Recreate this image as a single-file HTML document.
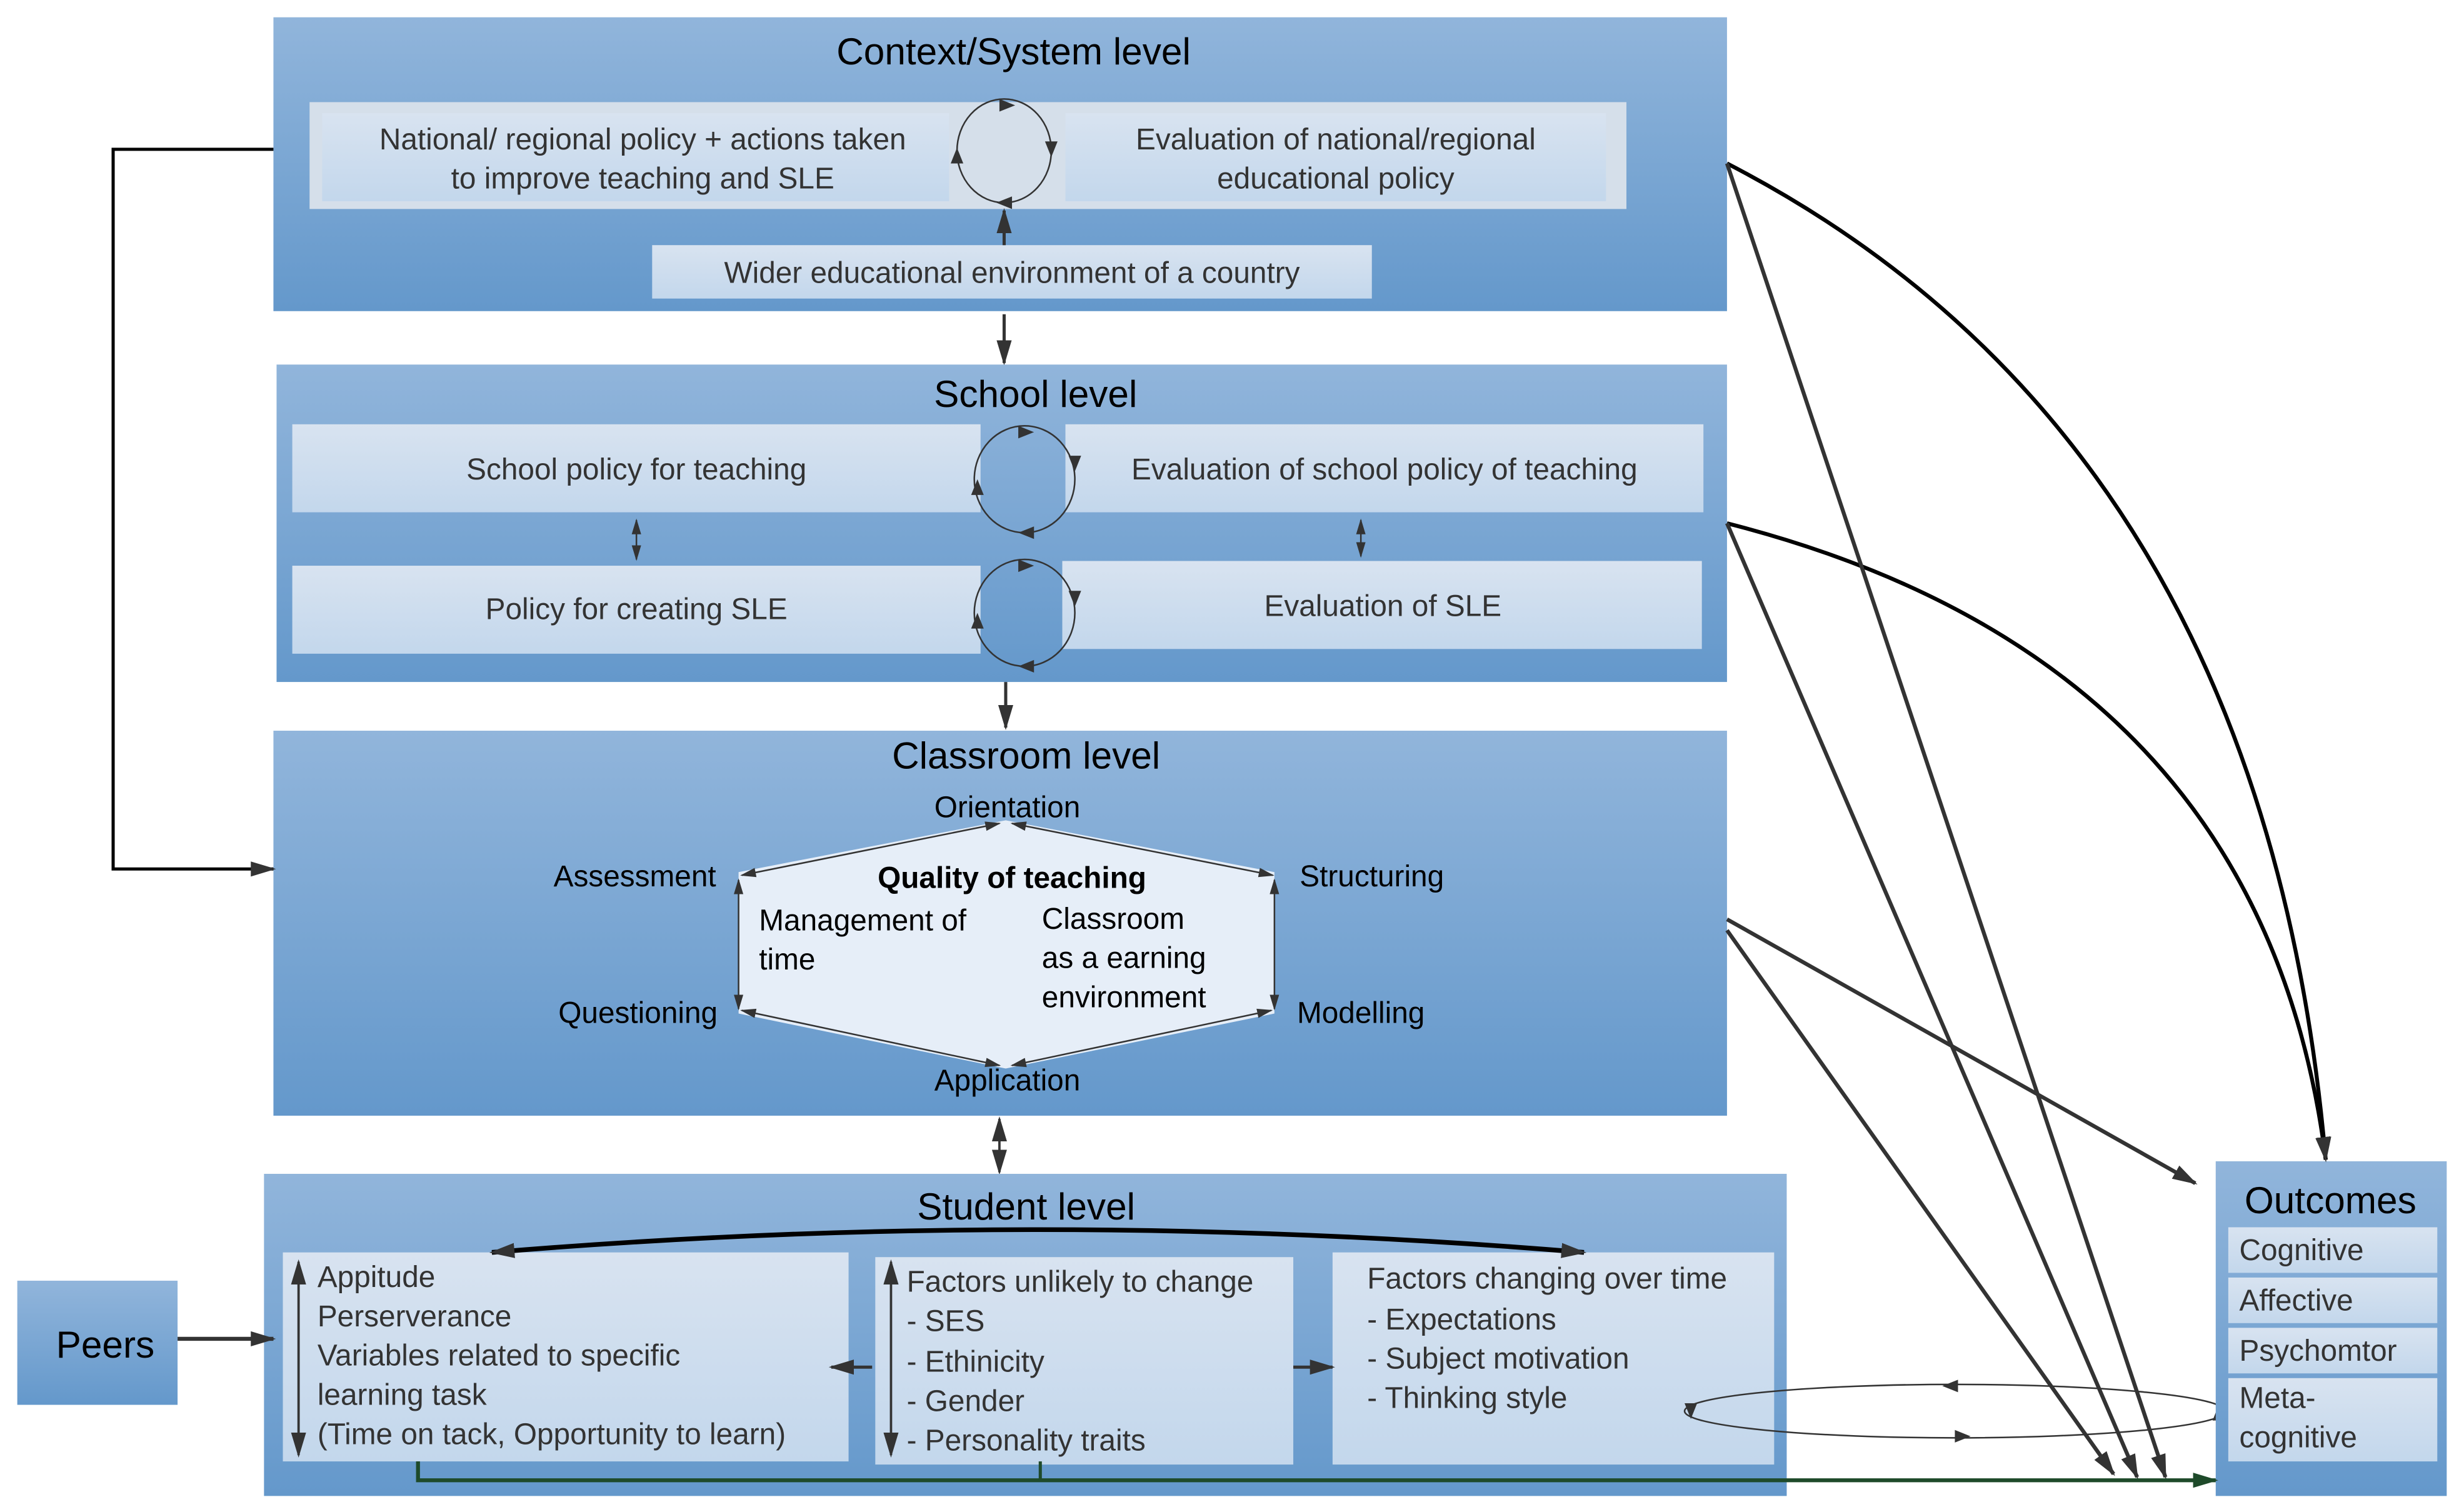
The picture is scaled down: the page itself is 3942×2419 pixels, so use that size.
<!DOCTYPE html>
<html><head><meta charset="utf-8"><style>
html,body{margin:0;padding:0;background:#fff;}
svg{display:block;}
text{font-family:"Liberation Sans",Arial,sans-serif;}
</style></head><body>
<svg width="3942" height="2419" viewBox="0 0 1568 962.2" preserveAspectRatio="none" xmlns="http://www.w3.org/2000/svg">
<defs>
<linearGradient id="bg" x1="0" y1="0" x2="0" y2="1"><stop offset="0" stop-color="#91b5db"/><stop offset="1" stop-color="#6498cb"/></linearGradient>
<linearGradient id="ib" x1="0" y1="0" x2="0" y2="1"><stop offset="0" stop-color="#d8e3f0"/><stop offset="1" stop-color="#c3d7ec"/></linearGradient>
<marker id="a" viewBox="0 0 10 10" refX="9" refY="5" markerUnits="userSpaceOnUse" markerWidth="10" markerHeight="10" orient="auto-start-reverse"><path d="M0,2L10,5L0,8z" fill="#333"/></marker>
<marker id="s" viewBox="0 0 10 10" refX="9" refY="5" markerUnits="userSpaceOnUse" markerWidth="16" markerHeight="16" orient="auto-start-reverse"><path d="M0,2L10,5L0,8z" fill="#333"/></marker>
<marker id="g" viewBox="0 0 10 10" refX="9" refY="5" markerUnits="userSpaceOnUse" markerWidth="16" markerHeight="16" orient="auto"><path d="M0,2L10,5L0,8z" fill="#1e4a2a"/></marker>
</defs>
<g fill="#333" font-size="19" text-anchor="middle">
<!-- Context -->
<rect x="174" y="11" width="925" height="187" fill="url(#bg)"/>
<text x="645" y="41" font-size="24" fill="#000">Context/System level</text>
<rect x="197" y="65" width="838" height="68" fill="#d5dfea"/>
<rect x="205" y="72" width="399" height="56" fill="url(#ib)"/>
<rect x="678" y="72" width="344" height="56" fill="url(#ib)"/>
<text x="409" y="95">National/ regional policy + actions taken</text>
<text x="409" y="120">to improve teaching and SLE</text>
<text x="850" y="95">Evaluation of national/regional</text>
<text x="850" y="120">educational policy</text>
<ellipse cx="639" cy="96" rx="30" ry="33" fill="none" stroke="#333" stroke-width="1"/>
<path d="M636,63l10,4-10,4z M673,90l-4,10-4,-10z M634,129l10,-4v8z M605,104l4,-10 4,10z" fill="#333"/>
<rect x="415" y="156" width="458" height="34" fill="url(#ib)"/>
<text x="644" y="180">Wider educational environment of a country</text>
<line x1="639" y1="156" x2="639" y2="134" stroke="#333" stroke-width="2" marker-end="url(#s)"/>
<line x1="639" y1="200" x2="639" y2="231" stroke="#333" stroke-width="2" marker-end="url(#s)"/>
<!-- School -->
<rect x="176" y="232" width="923" height="202" fill="url(#bg)"/>
<text x="659" y="259" font-size="24" fill="#000">School level</text>
<rect x="186" y="270" width="438" height="56" fill="url(#ib)"/>
<rect x="678" y="270" width="406" height="56" fill="url(#ib)"/>
<rect x="186" y="360" width="438" height="56" fill="url(#ib)"/>
<rect x="676" y="357" width="407" height="56" fill="url(#ib)"/>
<text x="405" y="305">School policy for teaching</text>
<text x="881" y="305">Evaluation of school policy of teaching</text>
<text x="405" y="394">Policy for creating SLE</text>
<text x="880" y="392">Evaluation of SLE</text>
<ellipse cx="652" cy="305" rx="32" ry="34" fill="none" stroke="#333"/>
<ellipse cx="652" cy="390" rx="32" ry="34" fill="none" stroke="#333"/>
<path d="M648,271l10,4-10,4z M688,290l-4,10-4,-10z M648,339l10,-4v8z M618,315l4,-10 4,10z" fill="#333"/>
<path d="M648,356l10,4-10,4z M688,376l-4,10-4,-10z M648,424l10,-4v8z M618,400l4,-10 4,10z" fill="#333"/>
<line x1="405" y1="331" x2="405" y2="356" stroke="#333" marker-start="url(#a)" marker-end="url(#a)"/>
<line x1="866" y1="331" x2="866" y2="354" stroke="#333" marker-start="url(#a)" marker-end="url(#a)"/>
<line x1="640" y1="434" x2="640" y2="463" stroke="#333" stroke-width="2" marker-end="url(#s)"/>
<!-- Classroom -->
<rect x="174" y="465" width="925" height="245" fill="url(#bg)"/>
<text x="653" y="489" font-size="24" fill="#000">Classroom level</text>
<polygon points="640,522 811,555 811,645 640,680 470,645 470,555" fill="#e6eef8"/>
<g stroke="#333" fill="none">
<line x1="636" y1="524" x2="472" y2="557" marker-end="url(#a)" marker-start="url(#a)"/>
<line x1="644" y1="524" x2="810" y2="557" marker-end="url(#a)" marker-start="url(#a)"/>
<line x1="811" y1="560" x2="811" y2="642" marker-end="url(#a)" marker-start="url(#a)"/>
<line x1="470" y1="560" x2="470" y2="642" marker-end="url(#a)" marker-start="url(#a)"/>
<line x1="472" y1="643" x2="636" y2="678" marker-end="url(#a)" marker-start="url(#a)"/>
<line x1="809" y1="643" x2="644" y2="678" marker-end="url(#a)" marker-start="url(#a)"/>
</g>
<g fill="#000">
<text x="641" y="520">Orientation</text>
<text x="404" y="564">Assessment</text>
<text x="873" y="564">Structuring</text>
<text x="406" y="651">Questioning</text>
<text x="866" y="651">Modelling</text>
<text x="641" y="694">Application</text>
<text x="644" y="565" font-weight="bold">Quality of teaching</text>
<g text-anchor="start"><text x="483" y="592">Management of</text><text x="483" y="617">time</text>
<text x="663" y="591">Classroom</text><text x="663" y="616">as a earning</text><text x="663" y="641">environment</text></g>
</g>
<line x1="636" y1="712" x2="636" y2="746" stroke="#333" stroke-width="1.5" marker-start="url(#s)" marker-end="url(#s)"/>
<!-- Student -->
<rect x="168" y="747" width="969" height="205" fill="url(#bg)"/>
<text x="653" y="776" font-size="24" fill="#000">Student level</text>
<rect x="180" y="797" width="360" height="133" fill="url(#ib)"/>
<rect x="557" y="800" width="266" height="132" fill="url(#ib)"/>
<rect x="848" y="797" width="281" height="135" fill="url(#ib)"/>
<g text-anchor="start">
<text x="202" y="819">Appitude</text><text x="202" y="844">Perserverance</text><text x="202" y="869">Variables related to specific</text><text x="202" y="894">learning task</text><text x="202" y="919">(Time on tack, Opportunity to learn)</text>
<text x="577" y="822">Factors unlikely to change</text><text x="577" y="847">- SES</text><text x="577" y="873">- Ethinicity</text><text x="577" y="898">- Gender</text><text x="577" y="923">- Personality traits</text>
<text x="870" y="820">Factors changing over time</text><text x="870" y="846">- Expectations</text><text x="870" y="871">- Subject motivation</text><text x="870" y="896">- Thinking style</text>
</g>
<line x1="190" y1="803" x2="190" y2="926" stroke="#333" stroke-width="1.5" marker-start="url(#s)" marker-end="url(#s)"/>
<line x1="567" y1="803" x2="567" y2="926" stroke="#333" stroke-width="1.5" marker-start="url(#s)" marker-end="url(#s)"/>
<path d="M313,797 Q660,768 1008,797" fill="none" stroke="#000" stroke-width="3" marker-start="url(#s)" marker-end="url(#s)"/>
<line x1="555" y1="870" x2="529" y2="870" stroke="#333" stroke-width="2" marker-end="url(#s)"/>
<line x1="823" y1="870" x2="848" y2="870" stroke="#333" stroke-width="2" marker-end="url(#s)"/>
<ellipse cx="1244" cy="898" rx="172" ry="17" fill="none" stroke="#333"/>
<path d="M1236,882l10,-4v8z M1254,914l-10,-4v8z M1072,893l4,10 4,-10z M1416,904l-4,-10 -4,10z" fill="#333"/>
<!-- Peers -->
<rect x="11" y="815" width="102" height="79" fill="url(#bg)"/>
<text x="67" y="864" font-size="24" fill="#000">Peers</text>
<line x1="113" y1="852" x2="174" y2="852" stroke="#333" stroke-width="2.5" marker-end="url(#s)"/>
<!-- Outcomes -->
<rect x="1410" y="739" width="147" height="213" fill="url(#bg)"/>
<text x="1483" y="772" font-size="24" fill="#000">Outcomes</text>
<rect x="1418" y="781" width="133" height="29" fill="url(#ib)"/>
<rect x="1418" y="813" width="133" height="29" fill="url(#ib)"/>
<rect x="1418" y="845" width="133" height="29" fill="url(#ib)"/>
<rect x="1418" y="877" width="133" height="53" fill="url(#ib)"/>
<g text-anchor="start"><text x="1425" y="802">Cognitive</text><text x="1425" y="834">Affective</text><text x="1425" y="866">Psychomtor</text><text x="1425" y="896">Meta-</text><text x="1425" y="921">cognitive</text></g>
<!-- connectors -->
<path d="M174,95 H72 V553 H174" fill="none" stroke="#000" stroke-width="2" marker-end="url(#s)"/>
<g fill="none" stroke="#000" stroke-width="2.5">
<path d="M1099,104 Q1440,280 1480,738" marker-end="url(#s)"/>
<path d="M1099,333 Q1440,420 1480,738" marker-end="url(#s)"/>
</g>
<g fill="none" stroke="#333" stroke-width="2.5">
<line x1="1099" y1="104" x2="1378" y2="940" marker-end="url(#s)"/>
<line x1="1099" y1="333" x2="1360" y2="940" marker-end="url(#s)"/>
<line x1="1099" y1="585" x2="1397" y2="753" marker-end="url(#s)"/>
<line x1="1099" y1="592" x2="1345" y2="938" marker-end="url(#s)"/>
</g>
<path d="M662,930 V942" fill="none" stroke="#1e4a2a" stroke-width="2"/>
<path d="M266,930 V942 H1410" fill="none" stroke="#1e4a2a" stroke-width="2.5" marker-end="url(#g)"/>
</g>
</svg>
</body></html>
